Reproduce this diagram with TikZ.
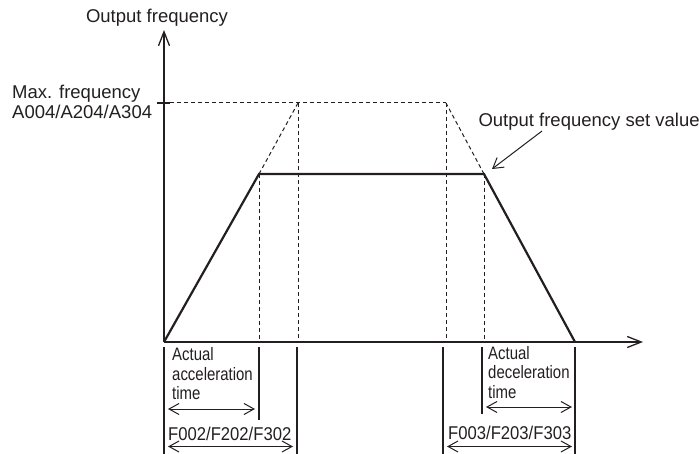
\documentclass[tikz,border=0pt]{standalone}
\usepackage{fontspec}
\setmainfont{Liberation Sans}
\newfontfamily\condA{Liberation Sans}[FakeStretch=0.83]
\newfontfamily\condB{Liberation Sans}[FakeStretch=0.9]
\usetikzlibrary{arrows.meta}
\definecolor{ink}{HTML}{231F20}
\tikzset{
  axisline/.style={draw=ink, line width=1.4bp, -{Straight Barb[length=14bp,width=11bp,line width=1.3bp]}},
  profile/.style={draw=ink, line width=2.2bp, line join=miter},
  guide/.style={draw=ink, line width=1bp, dash pattern=on 4bp off 3bp},
  tickline/.style={draw=ink, line width=1.1bp},
  span/.style={draw=ink, line width=1bp, {Straight Barb[length=10bp,width=11bp]}-{Straight Barb[length=10bp,width=11bp]}},
  pointer/.style={draw=ink, line width=1bp, -{Straight Barb[length=10bp,width=12bp]}},
  lbl/.style={inner sep=0pt, text=ink, font=\fontsize{18.5bp}{19.5bp}\selectfont},
  lblA/.style={inner sep=0pt, text=ink, font=\condA\fontsize{18bp}{19.5bp}\selectfont},
  lblB/.style={inner sep=0pt, text=ink, font=\condB\fontsize{18.5bp}{19.5bp}\selectfont},
}
\begin{document}
\begin{tikzpicture}[x=1bp, y=-1bp]
\useasboundingbox (0,0) rectangle (699,454);
% key points
\coordinate (O) at (164,342);
\coordinate (Ytop) at (164,30);
\coordinate (Xend) at (643,342);
\coordinate (A) at (259,174);
\coordinate (B) at (484,174);
\coordinate (E) at (575,342);
\coordinate (Pa) at (298,103);
\coordinate (Pb) at (446,103);
\coordinate (Tl) at (157,103);
\coordinate (Tr) at (170,103);
% axes
\draw[axisline] (O) -- (Ytop);
\draw[axisline] (O) -- (Xend);
\draw[ink, line width=2.2bp] (Tl) -- (Tr);
% guides
\draw[guide] (Tr) -- (Pb);
\draw[guide] (A) -- (Pa);
\draw[guide] (B) -- (Pb);
\coordinate (Aa) at (259,342);
\coordinate (Pax) at (298,342);
\coordinate (Pbx) at (446,342);
\coordinate (Bx) at (484,342);
\draw[guide] (A) -- (Aa);
\draw[guide] (Pa) -- (Pax);
\draw[guide] (Pb) -- (Pbx);
\draw[guide] (B) -- (Bx);
% profile
\draw[profile] (O) -- (A) -- (B) -- (E);
% lower marks
\coordinate (m1t) at (164,347); \coordinate (m1b) at (164,454);
\coordinate (m2t) at (259,347); \coordinate (m2b) at (259,420);
\coordinate (m3t) at (297,347); \coordinate (m3b) at (297,454);
\coordinate (m4t) at (443,347); \coordinate (m4b) at (443,454);
\coordinate (m5t) at (482,347); \coordinate (m5b) at (482,414);
\coordinate (m6t) at (575,347); \coordinate (m6b) at (575,454);
\draw[tickline] (m1t) -- (m1b);
\draw[tickline] (m2t) -- (m2b);
\draw[tickline] (m3t) -- (m3b);
\draw[tickline] (m4t) -- (m4b);
\draw[tickline] (m5t) -- (m5b);
\draw[tickline] (m6t) -- (m6b);
% spans
\coordinate (s1a) at (168,409); \coordinate (s1b) at (255,409);
\coordinate (s2a) at (168,446.5); \coordinate (s2b) at (293,446.5);
\coordinate (s3a) at (486,407); \coordinate (s3b) at (572,407);
\coordinate (s4a) at (447,446.5); \coordinate (s4b) at (572,446.5);
\draw[span] (s1a) -- (s1b);
\draw[span] (s2a) -- (s2b);
\draw[span] (s3a) -- (s3b);
\draw[span] (s4a) -- (s4b);
% labels
\node[lbl, anchor=base] (yl) at (157,22.7) {Output frequency};
\node[lbl, anchor=base west] (mx1) at (12,99) {Max. frequency};
\node[lbl, anchor=base west] (mx2) at (12,118.5) {A004/A204/A304};
\node[lbl, anchor=base west] (setv) at (478.3,126.5) {Output frequency set value};
\coordinate (ptA) at (542,131);
\coordinate (ptB) at (492,169);
\draw[pointer] (ptA) -- (ptB);
\node[lblA, anchor=base west] (ac1) at (172,360.5) {Actual};
\node[lblA, anchor=base west] (ac2) at (172,380) {acceleration};
\node[lblA, anchor=base west] (ac3) at (172,399) {time};
\node[lblA, anchor=base west] (dc1) at (488,359) {Actual};
\node[lblA, anchor=base west] (dc2) at (488,378.5) {deceleration};
\node[lblA, anchor=base west] (dc3) at (488,398) {time};
\node[lblB, anchor=base west] (f2) at (168,440) {F002/F202/F302};
\node[lblB, anchor=base west] (f3) at (448,439) {F003/F203/F303};
\end{tikzpicture}
\end{document}
